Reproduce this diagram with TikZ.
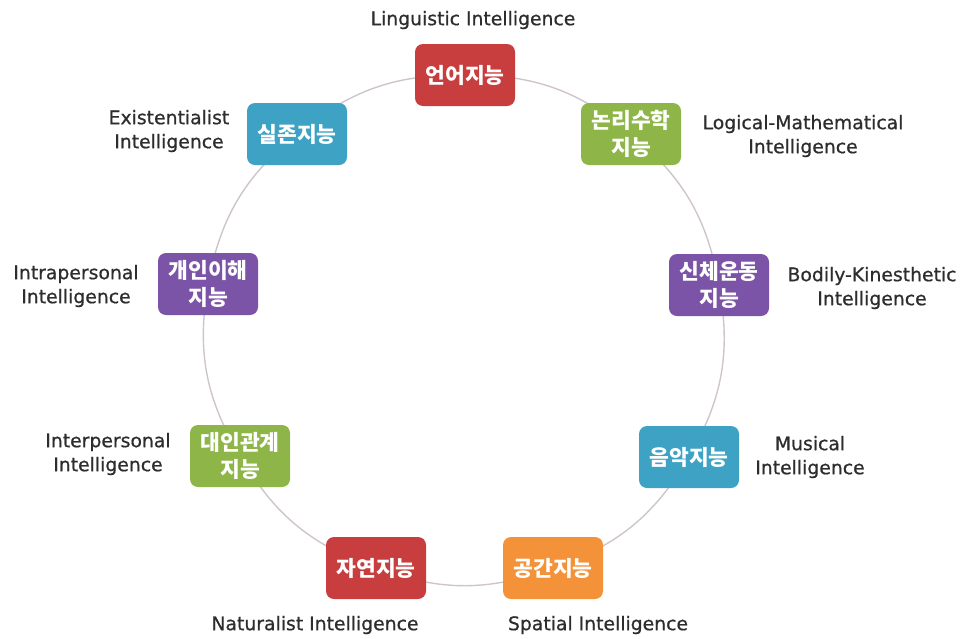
\documentclass[tikz,border=0pt]{standalone}
\usepackage{fontspec}
\usetikzlibrary{backgrounds}
\setmainfont{DejaVu Sans}
\newfontfamily\lblfont{DejaVu Sans}[FakeBold=0.7]
\newfontfamily\kr{Noto Sans CJK KR}
\definecolor{cred}{RGB}{200,62,62}
\definecolor{cgreen}{RGB}{141,181,72}
\definecolor{cpurple}{RGB}{123,84,168}
\definecolor{cblue}{RGB}{62,162,196}
\definecolor{corange}{RGB}{244,146,58}
\definecolor{ctext}{RGB}{45,45,45}
\definecolor{cline}{RGB}{208,196,204}
\tikzset{
  ibox/.style={rounded corners=8pt, minimum width=100pt, minimum height=62pt, inner sep=2pt,
    text=white, font=\kr\bfseries\fontsize{21.5}{27.5}\selectfont, align=center},
  lbl/.style={text=ctext, font=\lblfont\fontsize{18.8}{24}\selectfont, align=center, inner sep=0pt},
  ring/.style={draw=cline, line width=1.4pt}
}
\begin{document}
\begin{tikzpicture}[x=1pt,y=-1pt]
\useasboundingbox (0,0) rectangle (965,638);
\node[ibox, fill=cred]    (n1) at (465,75)  {언어지능};
\node[ibox, fill=cgreen]  (n2) at (631,134) {논리수학\\지능};
\node[ibox, fill=cpurple] (n3) at (719,285) {신체운동\\지능};
\node[ibox, fill=cblue]   (n4) at (689,457) {음악지능};
\node[ibox, fill=corange] (n5) at (553,568) {공간지능};
\node[ibox, fill=cred]    (n6) at (376,568) {자연지능};
\node[ibox, fill=cgreen]  (n7) at (240,456) {대인관계\\지능};
\node[ibox, fill=cpurple] (n8) at (208,284) {개인이해\\지능};
\node[ibox, fill=cblue]   (n9) at (297,134) {실존지능};
\begin{scope}[on background layer]
\draw[ring] (n1.center) to[bend left=20] (n2.center);
\draw[ring] (n2.center) to[bend left=20] (n3.center);
\draw[ring] (n3.center) to[bend left=20] (n4.center);
\draw[ring] (n4.center) to[bend left=20] (n5.center);
\draw[ring] (n5.center) to[bend left=20] (n6.center);
\draw[ring] (n6.center) to[bend left=20] (n7.center);
\draw[ring] (n7.center) to[bend left=20] (n8.center);
\draw[ring] (n8.center) to[bend left=20] (n9.center);
\draw[ring] (n9.center) to[bend left=20] (n1.center);
\end{scope}
\node[lbl] (l1) at (473,20)  {Linguistic Intelligence};
\node[lbl] (l2) at (803,136) {Logical-Mathematical\\Intelligence};
\node[lbl] (l3) at (872,288) {Bodily-Kinesthetic\\Intelligence};
\node[lbl] (l4) at (810,457) {Musical\\Intelligence};
\node[lbl] (l5) at (598,625) {Spatial Intelligence};
\node[lbl] (l6) at (315,625) {Naturalist Intelligence};
\node[lbl] (l7) at (108,454) {Interpersonal\\Intelligence};
\node[lbl] (l8) at (76,286)  {Intrapersonal\\Intelligence};
\node[lbl] (l9) at (169,131) {Existentialist\\Intelligence};
\end{tikzpicture}
\end{document}
